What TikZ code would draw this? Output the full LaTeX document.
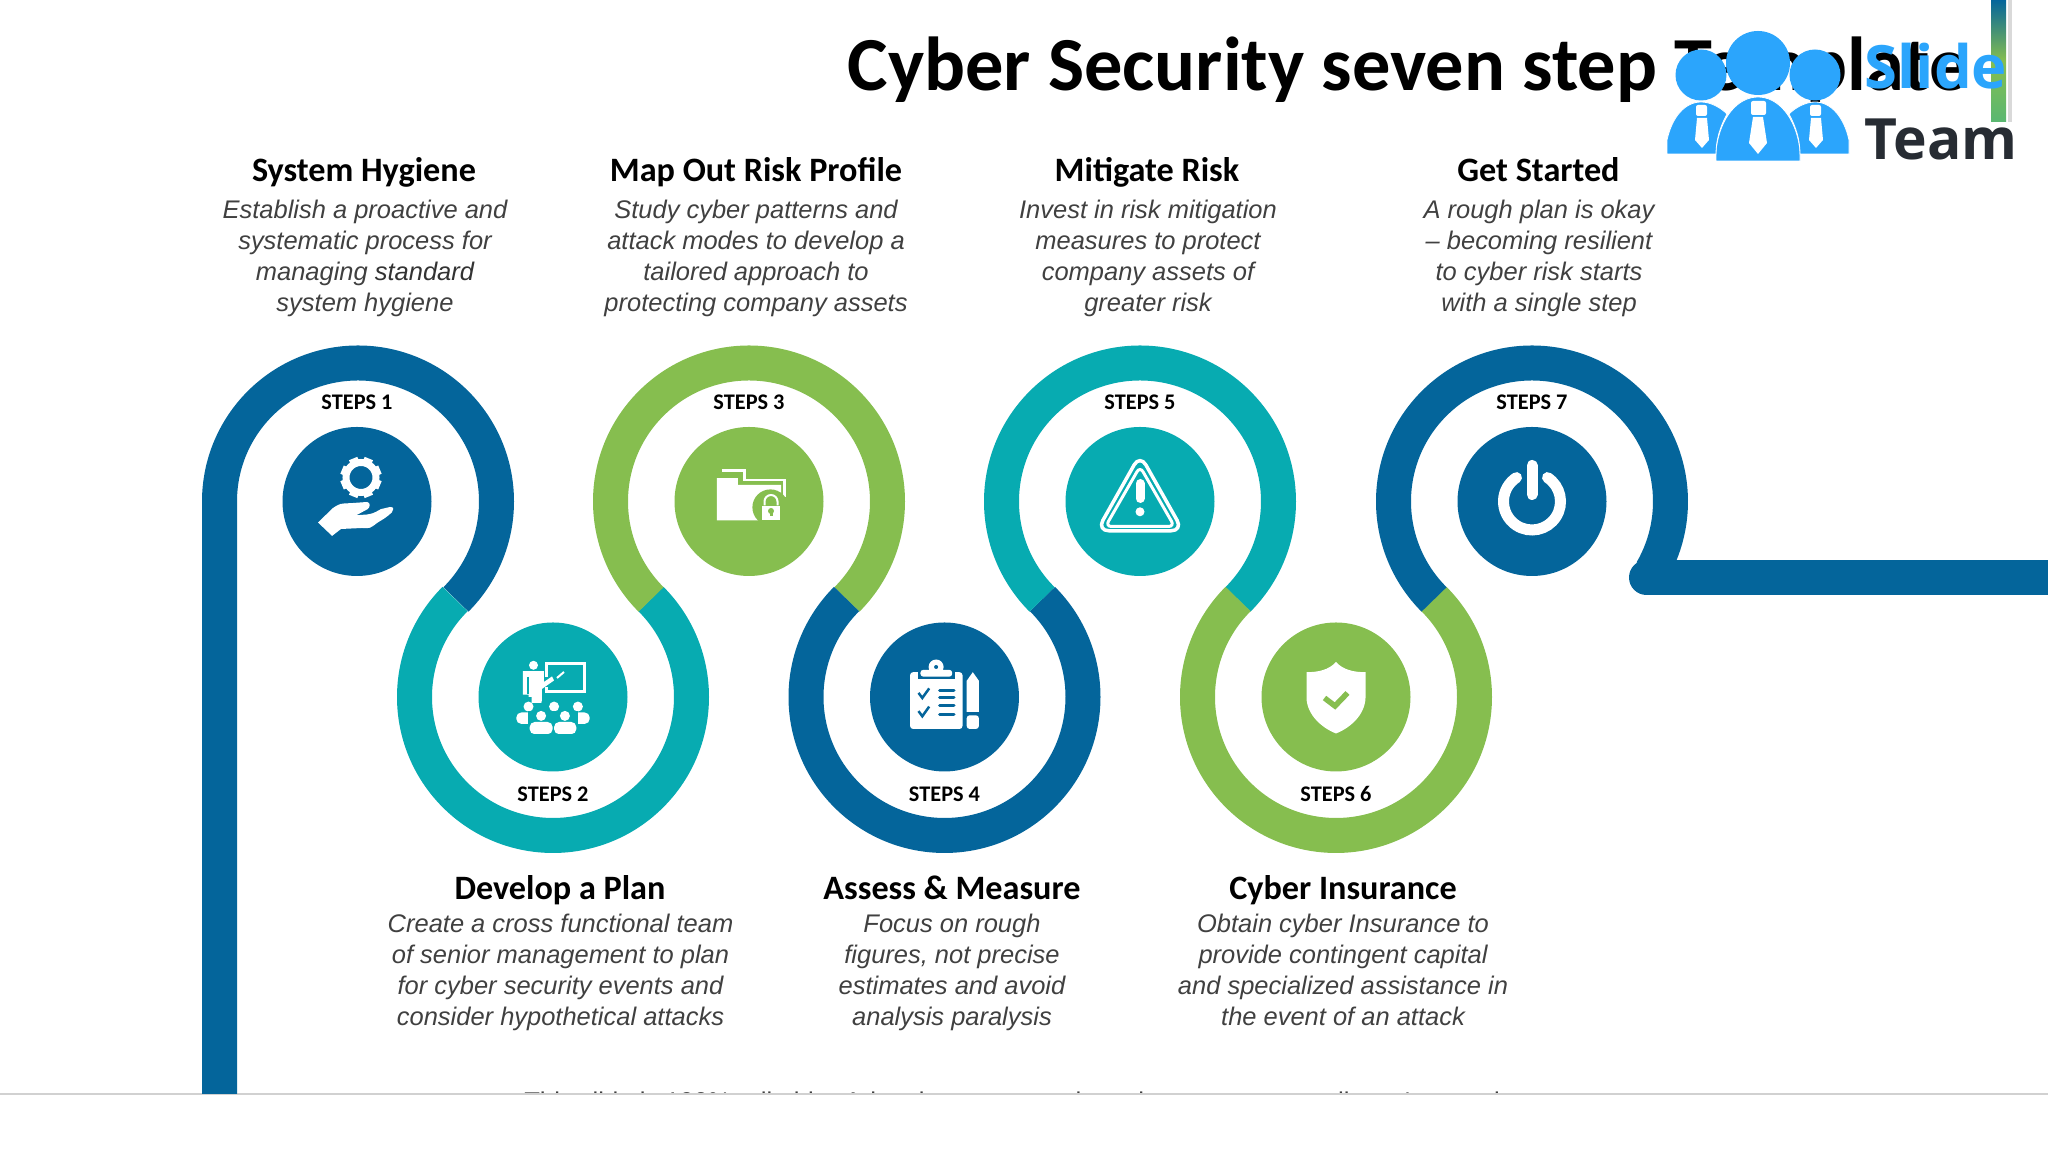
\documentclass[tikz,border=0pt]{standalone}
\usepackage{fontspec}
\setmainfont{Carlito}
\newfontfamily\descfont{Liberation Sans}
\newfontfamily\logofont{Open Sans}
\definecolor{stepblue}{HTML}{04659B}
\definecolor{stepteal}{HTML}{07ABB1}
\definecolor{stepgreen}{HTML}{86BE4F}
\definecolor{logoblue}{HTML}{2BA5FC}
\definecolor{logodark}{HTML}{272C33}
\definecolor{desctext}{HTML}{404040}
\tikzset{
  ringarc/.style={line width=0.35cm},
  stepdisc/.style={circle, minimum size=1.49cm, inner sep=0pt},
  steplabel/.style={anchor=base, inner sep=0pt, font=\bfseries\fontsize{6.35}{7}\selectfont},
  headlabel/.style={anchor=base, inner sep=0pt, font=\bfseries\fontsize{9.73}{11}\selectfont},
  desclabel/.style={align=center, inner sep=0pt, text=desctext, execute at begin node=\strut, execute at end node=\strut, font=\descfont\itshape\fontsize{7.25}{8.8}\selectfont},
  logobody/.style={fill=logoblue, draw=white, line width=0.008cm},
}
\begin{document}
\begin{tikzpicture}
    \useasboundingbox (0,0) rectangle (20.48,11.52);

    % Footer, cut by the slide edge
    \begin{scope}
      \clip (0,0.58) rectangle (20.48,1);
      \node[anchor=base, inner sep=0pt, font=\descfont\fontsize{7.3}{8}\selectfont, text=desctext] (footer) at (10.30,0.41) {This slide is 100\% editable. Adapt it to your needs and capture your audience's attention.};
    \end{scope}
    \draw[line width=0.02cm, black!18] (0,0.58) -- (20.48,0.58);

    % Step discs
    \node[stepdisc, fill=stepblue] (disc1) at (3.57,6.505) {};
    \node[stepdisc, fill=stepteal] (disc2) at (5.53,4.55) {};
    \node[stepdisc, fill=stepgreen] (disc3) at (7.49,6.505) {};
    \node[stepdisc, fill=stepblue] (disc4) at (9.445,4.55) {};
    \node[stepdisc, fill=stepteal] (disc5) at (11.40,6.505) {};
    \node[stepdisc, fill=stepgreen] (disc6) at (13.36,4.55) {};
    \node[stepdisc, fill=stepblue] (disc7) at (15.32,6.505) {};

    % Winding ribbon
    \draw[ringarc, stepblue] (2.195,0.58) -- (2.195,6.505) arc (180:-45:1.385);
    \draw[ringarc, stepteal] ([shift={(135:1.385)}]disc2.center) arc (135:405:1.385);
    \draw[ringarc, stepgreen] ([shift={(225:1.385)}]disc3.center) arc (225:-45:1.385);
    \draw[ringarc, stepblue] ([shift={(135:1.385)}]disc4.center) arc (135:405:1.385);
    \draw[ringarc, stepteal] ([shift={(225:1.385)}]disc5.center) arc (225:-45:1.385);
    \draw[ringarc, stepgreen] ([shift={(135:1.385)}]disc6.center) arc (135:405:1.385);
    \draw[ringarc, stepblue] ([shift={(225:1.385)}]disc7.center) arc (225:-30:1.385);
    \coordinate (tailstart) at (16.465,5.745);
    \coordinate (tailend) at (20.48,5.745);
    \draw[ringarc, stepblue, line cap=round] (tailstart) -- (tailend);

    % Step labels
    \node[steplabel] (lab1) at (3.57,7.425) {STEPS 1};
    \node[steplabel] (lab2) at (5.53,3.50) {STEPS 2};
    \node[steplabel] (lab3) at (7.49,7.425) {STEPS 3};
    \node[steplabel] (lab4) at (9.445,3.50) {STEPS 4};
    \node[steplabel] (lab5) at (11.40,7.425) {STEPS 5};
    \node[steplabel] (lab6) at (13.36,3.50) {STEPS 6};
    \node[steplabel] (lab7) at (15.32,7.425) {STEPS 7};

    % Top texts
    \node[headlabel] (head1) at (3.64,9.705) {System Hygiene};
    \node[headlabel] (head3) at (7.56,9.705) {Map Out Risk Profile};
    \node[headlabel] (head5) at (11.47,9.705) {Mitigate Risk};
    \node[headlabel] (head7) at (15.385,9.705) {Get Started};
    \node[desclabel] (desc1) at (3.65,8.912) {Establish a proactive and\\systematic process for\\managing {\color{black!80}standard}\\system hygiene};
    \node[desclabel] (desc3) at (7.56,8.912) {Study cyber patterns and\\attack modes to develop a\\tailored approach to\\protecting company assets};
    \node[desclabel] (desc5) at (11.48,8.912) {Invest in risk mitigation\\measures to protect\\company assets of\\greater risk};
    \node[desclabel] (desc7) at (15.39,8.912) {A rough plan is okay\\– becoming resilient\\to cyber risk starts\\with a single step};

    % Bottom texts
    \node[headlabel] (head2) at (5.60,2.525) {Develop a Plan};
    \node[headlabel] (head4) at (9.52,2.525) {Assess \& Measure};
    \node[headlabel] (head6) at (13.43,2.525) {Cyber Insurance};
    \node[desclabel] (desc2) at (5.605,1.776) {Create a cross functional team\\of senior management to plan\\for cyber security events and\\consider hypothetical attacks};
    \node[desclabel] (desc4) at (9.52,1.776) {Focus on rough\\figures, not precise\\estimates and avoid\\analysis paralysis};
    \node[desclabel] (desc6) at (13.43,1.776) {Obtain cyber Insurance to\\provide contingent capital\\and specialized assistance in\\the event of an attack};

    % Icon 1: gear over hand
    \begin{scope}[shift={(disc1.center)}]
      \draw[white, line width=0.07cm] (0.04,0.24) circle (0.15);
      \foreach \a in {0,45,...,315}
        \fill[white, shift={(0.04,0.24)}, rotate=\a+22.5] (0.13,-0.045) rectangle (0.205,0.045);
      \fill[white] (-0.39,-0.21) -- (-0.24,-0.065) .. controls (-0.17,-0.02) .. (-0.065,-0.017) -- (0.10,-0.005) .. controls (0.14,-0.01) and (0.13,-0.06) .. (0.107,-0.076) -- (-0.008,-0.138) -- (0.10,-0.13) .. controls (0.16,-0.12) .. (0.24,-0.076) -- (0.33,-0.055) .. controls (0.37,-0.06) .. (0.348,-0.11) .. controls (0.29,-0.16) .. (0.203,-0.213) .. controls (0.13,-0.27) .. (0.05,-0.265) -- (-0.16,-0.275) -- (-0.249,-0.344) -- cycle;
    \end{scope}

    % Icon 2: presenter and audience
    \begin{scope}[shift={(disc2.center)}]
      \draw[white, line width=0.03cm] (-0.061,0.334) rectangle (0.31,0.059);
      \fill[stepteal] (-0.09,0.10) rectangle (-0.03,0.20);
      \fill[white] (-0.195,0.317) circle (0.045);
      \fill[white] (-0.302,0.258) -- (-0.092,0.258) -- (-0.092,0.15) -- (-0.01,0.205) -- (0.01,0.165) -- (-0.111,0.08) -- (-0.111,-0.03) -- (-0.13,-0.131) -- (-0.214,-0.131) -- (-0.214,0) -- (-0.245,0) -- (-0.245,0.024) -- (-0.302,0.024) -- cycle;
      \draw[stepteal, line width=0.012cm] (-0.25,0.2) -- (-0.25,0.03);
      \draw[white, line width=0.02cm] (0.04,0.19) -- (0.11,0.25);
      \fill[stepteal] (-0.38,-0.06) rectangle (0.38,-0.14);
      \foreach \x/\y in {-0.245/-0.096, 0.011/-0.096, 0.249/-0.096}
        \fill[white] (\x,\y) circle (0.05);
      \fill[white, rounded corners=0.05cm] (-0.367,-0.269) -- (-0.367,-0.155) -- (-0.187,-0.155) -- (-0.187,-0.269) -- cycle;
      \fill[white, rounded corners=0.05cm] (0.187,-0.269) -- (0.187,-0.155) -- (0.367,-0.155) -- (0.367,-0.269) -- cycle;
      \fill[white, rounded corners=0.05cm] (-0.09,-0.24) -- (-0.09,-0.155) -- (0.11,-0.155) -- (0.11,-0.24) -- cycle;
      \fill[stepteal] (-0.25,-0.14) rectangle (0.25,-0.39);
      \foreach \x/\y in {-0.119/-0.189, 0.119/-0.189}
        \fill[white] (\x,\y) circle (0.05);
      \fill[white, rounded corners=0.05cm] (-0.233,-0.372) -- (-0.233,-0.25) -- (-0.004,-0.25) -- (-0.004,-0.372) -- cycle;
      \fill[white, rounded corners=0.05cm] (0.011,-0.372) -- (0.011,-0.25) -- (0.233,-0.25) -- (0.233,-0.372) -- cycle;
      \fill[stepteal] (-0.24,-0.372) rectangle (0.24,-0.39);
    \end{scope}

    % Icon 3: folder with lock
    \begin{scope}[shift={(disc3.center)}]
      \draw[white, line width=0.025cm] (-0.272,0.31) -- (-0.046,0.31) -- (-0.046,0.217) -- (0.356,0.217) -- (0.356,0.045);
      \fill[white] (-0.321,0.234) -- (-0.111,0.234) -- (-0.111,0.165) -- (0.321,0.165) -- (0.321,-0.189) -- (-0.321,-0.189) -- cycle;
      \fill[stepgreen] (0.214,-0.059) circle (0.18);
      \fill[stepgreen] (0.1,-0.19) rectangle (0.34,-0.06);
      \draw[white, line width=0.02cm] (0.155,-0.04) -- (0.155,0.0) arc (180:0:0.065) -- (0.285,-0.04);
      \fill[white] (0.13,-0.041) rectangle (0.31,-0.189);
      \fill[stepgreen] (0.22,-0.095) circle (0.03);
      \fill[stepgreen] (0.205,-0.15) rectangle (0.235,-0.095);
    \end{scope}

    % Icon 4: clipboard and pencil
    \begin{scope}[shift={(disc4.center)}]
      \fill[white, rounded corners=0.03cm] (-0.344,0.248) rectangle (0.18,-0.32);
      \fill[stepblue] (-0.27,0.29) rectangle (0.10,0.18);
      \fill[white, rounded corners=0.03cm] (-0.241,0.272) rectangle (0.077,0.203);
      \fill[white] (-0.084,0.30) circle (0.075);
      \fill[stepblue] (-0.084,0.30) circle (0.02);
      \draw[stepblue, line width=0.025cm] (-0.26,0.041) -- (-0.222,-0.01) -- (-0.153,0.086);
      \draw[stepblue, line width=0.025cm] (-0.26,-0.141) -- (-0.222,-0.193) -- (-0.153,-0.096);
      \foreach \y in {0.069,-0.01,-0.09,-0.176}
        \draw[stepblue, line width=0.03cm, line cap=round] (-0.05,\y) -- (0.095,\y);
      \fill[white] (0.283,0.248) -- (0.344,0.162) -- (0.344,-0.148) -- (0.222,-0.148) -- (0.222,0.162) -- cycle;
      \fill[white, rounded corners=0.03cm] (0.222,-0.183) -- (0.344,-0.183) -- (0.344,-0.32) -- (0.222,-0.32) -- cycle;
    \end{scope}

    % Icon 5: warning sign
    \begin{scope}[shift={(disc5.center)}]
      \draw[white, line width=0.035cm, rounded corners=0.12cm] (0,0.47) -- (0.43,-0.293) -- (-0.43,-0.293) -- cycle;
      \draw[white, line width=0.03cm, rounded corners=0.06cm] (0,0.35) -- (0.345,-0.25) -- (-0.345,-0.25) -- cycle;
      \draw[white, line width=0.09cm, line cap=round] (0,0.18) -- (0,0.03);
      \fill[white] (0,-0.103) circle (0.045);
    \end{scope}

    % Icon 6: shield
    \begin{scope}[shift={(disc6.center)}]
      \fill[white] (0,0.351) .. controls (-0.07,0.27) and (-0.18,0.248) .. (-0.295,0.248) -- (-0.295,-0.01) .. controls (-0.29,-0.18) and (-0.14,-0.31) .. (0,-0.365) .. controls (0.14,-0.31) and (0.29,-0.18) .. (0.295,-0.01) -- (0.295,0.248) .. controls (0.18,0.248) and (0.07,0.27) .. (0,0.351) -- cycle;
      \draw[stepgreen, line width=0.055cm] (-0.115,-0.01) -- (-0.01,-0.09) -- (0.115,0.04);
    \end{scope}

    % Icon 7: power button
    \begin{scope}[shift={(disc7.center)}]
      \draw[white, line width=0.11cm, line cap=round] (57:0.285) arc (57:-237:0.285);
      \draw[white, line width=0.11cm, line cap=round] (0,0.36) -- (0,0.07);
    \end{scope}

    % Title
    \node[anchor=base west, inner sep=0pt, font=\bfseries\fontsize{21.75}{26}\selectfont] (title) at (8.47,10.615) {Cyber Security seven step Template};

    % Logo
    \shade[top color=stepblue, bottom color=stepgreen!65!stepteal, middle color=stepgreen] (19.91,10.30) rectangle (20.06,11.52);
    \fill[black!15] (20.08,10.30) rectangle (20.12,11.52);
    \filldraw[logobody] (17.16,9.91) -- (17.16,10.02) .. controls (17.2,10.35) and (17.38,10.55) .. (17.58,10.55) .. controls (17.78,10.55) and (17.96,10.35) .. (18.00,10.02) -- (18.00,9.91) -- cycle;
    \filldraw[logobody] (16.67,9.98) -- (16.67,10.12) .. controls (16.72,10.35) and (16.85,10.50) .. (17.01,10.50) .. controls (17.1,10.50) and (17.2,10.45) .. (17.27,10.38) .. controls (17.2,10.25) and (17.16,10.12) .. (17.16,9.98) -- cycle;
    \filldraw[logobody] (18.49,9.98) -- (18.49,10.12) .. controls (18.44,10.35) and (18.31,10.50) .. (18.15,10.50) .. controls (18.06,10.50) and (17.96,10.45) .. (17.89,10.38) .. controls (17.96,10.25) and (18.00,10.12) .. (18.00,9.98) -- cycle;
    \fill[logoblue] (17.58,10.89) circle (0.32);
    \fill[logoblue] (17.01,10.77) circle (0.255);
    \fill[logoblue] (18.15,10.77) circle (0.255);
    \fill[white, rounded corners=0.02cm] (17.51,10.51) rectangle (17.66,10.37);
    \fill[white] (17.53,10.35) -- (17.63,10.35) -- (17.67,10.09) -- (17.58,9.98) -- (17.49,10.09) -- cycle;
    \fill[white, rounded corners=0.02cm] (16.96,10.47) rectangle (17.07,10.36);
    \fill[white] (16.97,10.34) -- (17.07,10.34) -- (17.09,10.12) -- (17.02,10.04) -- (16.95,10.12) -- cycle;
    \fill[white, rounded corners=0.02cm] (18.10,10.47) rectangle (18.21,10.36);
    \fill[white] (18.11,10.34) -- (18.21,10.34) -- (18.23,10.12) -- (18.16,10.04) -- (18.09,10.12) -- cycle;
    \node[anchor=base west, inner sep=0pt, text=logoblue, font=\logofont\bfseries\fontsize{17}{20}\selectfont] (logoslide) at (18.64,10.63) {Slide};
    \node[anchor=base west, inner sep=0pt, text=logodark, font=\logofont\bfseries\fontsize{16.2}{20}\selectfont] (logoteam) at (18.64,9.92) {Team};
\end{tikzpicture}
\end{document}
